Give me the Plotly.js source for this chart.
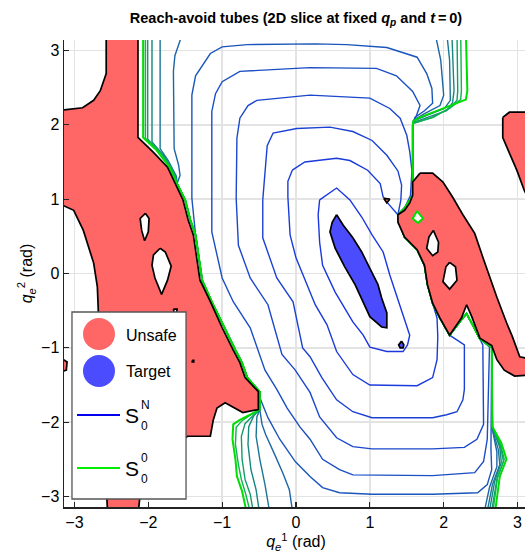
<!DOCTYPE html>
<html>
<head>
<meta charset="utf-8">
<script src="https://cdn.plot.ly/plotly-3.0.1.min.js"></script>
<style>html,body{margin:0;padding:0;overflow:hidden;background:#fff}</style>
</head>
<body>
<div id="chart" style="width:530px;height:556px"></div>
<script>
// ---------------- data (axis units: rad) ----------------
const tickValues = [-3, -2, -1, 0, 1, 2, 3];

// Unsafe set (red) polygons
const unsafeLeft = [[-2.57,3.25],[-2.14,3.25],[-2.14,1.83],[-1.93,1.63],[-1.74,1.43],[-1.64,1.21],[-1.53,0.99],[-1.46,0.72],[-1.39,0.52],[-1.34,0.18],[-1.30,-0.09],[-1.16,-0.38],[-1.00,-0.73],[-0.85,-1.03],[-0.76,-1.20],[-0.69,-1.40],[-0.51,-1.59],[-0.51,-1.83],[-0.72,-1.87],[-0.96,-1.74],[-1.07,-1.81],[-1.12,-1.97],[-1.16,-2.19],[-1.47,-2.19],[-1.70,-2.37],[-1.97,-2.71],[-2.11,-2.97],[-2.14,-3.25],[-2.55,-3.25],[-2.58,-2.64],[-2.62,-1.97],[-2.65,-1.16],[-2.68,-0.45],[-2.69,-0.18],[-2.74,0.14],[-2.88,0.58],[-3.01,0.85],[-3.25,0.96],[-3.25,2.19],[-2.89,2.23],[-2.74,2.33],[-2.65,2.46],[-2.57,2.69]];
const unsafeRight = [[1.68,1.35],[1.85,1.35],[1.99,1.23],[2.12,1.03],[2.26,0.79],[2.42,0.54],[2.53,0.22],[2.62,-0.05],[2.72,-0.32],[2.85,-0.66],[2.93,-0.85],[3.03,-1.12],[3.25,-1.17],[3.25,-1.36],[2.96,-1.38],[2.82,-1.30],[2.72,-1.16],[2.65,-0.97],[2.49,-0.87],[2.38,-0.58],[2.31,-0.42],[2.24,-0.60],[2.08,-0.83],[1.95,-0.60],[1.85,-0.40],[1.78,-0.15],[1.74,0.11],[1.64,0.32],[1.47,0.49],[1.38,0.69],[1.38,0.79],[1.47,0.85],[1.54,0.95],[1.58,1.05],[1.58,1.23]];
const unsafeTopRight = [[2.80,2.10],[2.89,2.17],[3.25,2.17],[3.25,0.80],[3.09,1.12],[2.99,1.39],[2.89,1.62],[2.80,1.83]];
const unsafeWrap = [[-3.25,-1.10],[-3.10,-1.19],[-3.11,-1.30],[-3.25,-1.34]];
const unsafeSpeck = [[1.19,1.01],[1.27,1.00],[1.23,0.95]];

// holes inside the unsafe set
const holeL1 = [[-2.04,0.81],[-1.99,0.74],[-2.00,0.56],[-2.05,0.44],[-2.09,0.58],[-2.11,0.74]];
const holeL2 = [[-1.84,0.34],[-1.77,0.29],[-1.69,0.10],[-1.74,-0.09],[-1.82,-0.28],[-1.91,-0.06],[-1.95,0.11],[-1.93,0.25]];
const holeL3 = [[-1.66,-0.48],[-1.61,-0.48],[-1.62,-0.53],[-1.65,-0.53]];
const holeL4 = [[-1.405,-1.17],[-1.385,-1.17],[-1.385,-1.19],[-1.405,-1.19]];
const holeR1 = [[1.86,0.58],[1.93,0.42],[1.92,0.29],[1.85,0.24],[1.77,0.34],[1.80,0.49]];
const holeR2 = [[2.08,0.15],[2.16,0.09],[2.18,-0.09],[2.08,-0.21],[1.99,-0.11],[2.03,0.09]];
const holeDiamond = [[1.64,0.84],[1.72,0.74],[1.65,0.68],[1.58,0.74]];

// Target set (blue)
const targetMain = [[0.55,0.79],[0.64,0.65],[0.77,0.48],[0.89,0.29],[1.00,0.07],[1.11,-0.15],[1.16,-0.33],[1.23,-0.53],[1.23,-0.73],[1.16,-0.72],[1.00,-0.58],[0.91,-0.38],[0.80,-0.15],[0.66,0.09],[0.53,0.34],[0.46,0.56],[0.49,0.69]];
const targetSpeck = [[1.43,-0.91],[1.46,-0.96],[1.45,-1.00],[1.41,-1.00],[1.39,-0.96]];

// shared stretches where level sets run along the unsafe boundary
const rimLeft = [[-1.61,1.21],[-1.50,0.99],[-1.43,0.72],[-1.36,0.52],[-1.31,0.18],[-1.27,-0.09],[-1.14,-0.38],[-0.97,-0.73],[-0.82,-1.03],[-0.73,-1.20],[-0.66,-1.40],[-0.49,-1.59],[-0.49,-1.83]];
const bundle = [[1.58,1.99],[1.58,1.23],[1.58,1.05],[1.47,0.88]];
const rimRight = [[1.38,0.79],[1.41,0.65],[1.47,0.49],[1.64,0.32],[1.74,0.11],[1.78,-0.15],[1.85,-0.40]];
const rimRightLow = [[1.95,-0.60],[2.08,-0.83]];
const rimNotch = [[2.24,-0.62],[2.31,-0.54],[2.39,-0.69],[2.49,-0.88]];

// level set S_0^N (innermost) ... S_0^0 (outermost)
const levelA = [[0.32,0.99],[0.55,1.15],[0.73,0.99],[0.89,0.76],[1.03,0.52],[1.18,0.29],[1.27,-0.02],[1.36,-0.29],[1.45,-0.56],[1.54,-0.83],[1.51,-0.96],[1.45,-1.05],[1.23,-1.05],[1.00,-0.99],[0.91,-0.83],[0.77,-0.65],[0.53,-0.25],[0.36,0.11],[0.32,0.42],[0.30,0.79],[0.32,0.99]];
const levelBTop = [[-0.05,1.39],[0.12,1.50],[0.55,1.55],[0.73,1.52],[0.97,1.39],[1.14,1.21],[1.18,1.03],[1.24,0.95]];
const levelBRest = [[1.91,-0.60],[1.92,-0.85],[1.91,-1.16],[1.85,-1.40],[1.64,-1.51],[1.00,-1.50],[0.77,-1.36],[0.55,-1.05],[0.42,-0.69],[0.26,-0.42],[0.12,-0.09],[0.00,0.21],[-0.08,0.52],[-0.11,1.03],[-0.11,1.24],[-0.05,1.39]];
const levelCTop = [[-0.45,0.99],[-0.42,1.38],[-0.39,1.72],[-0.31,1.89],[0.01,1.95],[0.46,1.97],[0.77,1.91],[1.03,1.79],[1.23,1.59],[1.38,1.38],[1.43,1.19],[1.42,0.99]];
const levelCRest = [[2.28,-0.96],[2.28,-1.56],[2.26,-1.70],[2.18,-1.86],[2.04,-1.90],[1.85,-1.94],[1.03,-1.94],[0.77,-1.86],[0.55,-1.70],[0.35,-1.40],[0.19,-1.12],[0.09,-1.00],[-0.04,-0.38],[-0.26,-0.06],[-0.45,0.48],[-0.45,0.99]];
const levelDTop = [[-0.81,1.01],[-0.80,1.82],[-0.76,2.09],[-0.65,2.26],[-0.53,2.33],[0.19,2.40],[1.00,2.36],[1.27,2.22],[1.41,2.09],[1.50,1.86],[1.54,1.64],[1.57,1.38],[1.55,1.05],[1.47,0.88]];
const levelDRest = [[2.53,-0.96],[2.54,-2.03],[2.45,-2.23],[2.28,-2.34],[1.85,-2.36],[1.03,-2.36],[0.77,-2.33],[0.55,-2.21],[0.32,-1.93],[0.19,-1.60],[-0.01,-1.30],[-0.19,-1.09],[-0.38,-0.42],[-0.62,-0.06],[-0.78,0.38],[-0.81,1.01]];
const levelETop = [[-1.14,1.01],[-1.14,2.18],[-1.09,2.42],[-1.00,2.58],[-0.76,2.72],[0.19,2.77],[1.09,2.76],[1.36,2.66],[1.58,2.45],[1.68,2.26],[1.64,2.15]];
const levelERest = [[2.62,-0.99],[2.59,-2.23],[2.54,-2.53],[2.42,-2.68],[1.85,-2.72],[1.03,-2.72],[0.77,-2.71],[0.59,-2.64],[0.36,-2.50],[0.19,-2.23],[0.05,-2.06],[-0.12,-1.81],[-0.26,-1.56],[-0.42,-1.30],[-0.49,-1.09],[-0.62,-0.73],[-0.85,-0.38],[-1.00,-0.06],[-1.14,0.56],[-1.14,1.01]];
const levelFTop = [[-1.41,1.01],[-1.41,2.40],[-1.36,2.66],[-1.27,2.80],[-1.16,2.96],[-1.00,3.05],[-0.66,3.08],[0.26,3.09],[0.69,3.08],[1.23,3.04],[1.64,2.91],[1.77,2.69],[1.84,2.49],[1.85,2.29],[1.74,2.19],[1.61,2.10]];
const levelFRest = [[2.65,-0.99],[2.64,-2.37],[2.65,-2.64],[2.59,-2.84],[2.46,-2.95],[1.85,-2.97],[1.03,-2.97],[0.59,-2.95],[0.36,-2.88],[0.19,-2.73],[-0.01,-2.53],[-0.22,-2.23],[-0.38,-1.94],[-0.49,-1.67],[-0.62,-1.46],[-0.66,-1.40],[-0.73,-1.20],[-0.82,-1.03],[-0.97,-0.73],[-1.14,-0.38],[-1.27,-0.09],[-1.31,0.18],[-1.36,0.52],[-1.41,1.01]];

// outer level sets: top-left, bottom-left, top-right, bottom-right pieces
const levelG_TL = [[-1.53,3.25],[-1.64,2.93],[-1.66,2.72],[-1.65,1.68],[-1.59,1.46],[-1.57,1.32]];
const levelG_BL = [[-0.46,-2.03],[-0.41,-2.17],[-0.30,-2.41],[-0.18,-2.68],[-0.09,-2.91],[-0.04,-3.25]];
const levelG_TR = [[1.88,3.25],[1.96,2.87],[2.00,2.40],[1.95,2.26],[1.74,2.15],[1.59,2.06]];
const levelG_BR = [[2.66,-2.10],[2.72,-2.40],[2.72,-2.60],[2.62,-2.88],[2.54,-3.25]];
const levelT1_TL = [[-1.84,3.25],[-1.84,1.68],[-1.73,1.52],[-1.62,1.31]];
const levelT1_BL = [[-0.53,-1.93],[-0.54,-2.19],[-0.49,-2.50],[-0.42,-2.84],[-0.35,-3.25]];
const levelT1_TR = [[2.04,3.25],[2.08,2.87],[2.09,2.33],[2.01,2.22],[1.78,2.13],[1.59,2.05]];
const levelT1_BR = [[2.66,-2.10],[2.74,-2.37],[2.76,-2.57],[2.66,-2.84],[2.58,-3.25]];
const levelT2_TL = [[-1.95,3.25],[-1.95,1.77],[-1.76,1.55],[-1.64,1.31]];
const levelT2_BL = [[-0.57,-1.91],[-0.64,-2.06],[-0.65,-2.30],[-0.61,-2.64],[-0.54,-2.91],[-0.49,-3.25]];
const levelT2_TR = [[2.11,3.25],[2.14,2.46],[2.12,2.30],[2.04,2.19],[1.81,2.11],[1.59,2.03]];
const levelT2_BR = [[2.66,-2.07],[2.76,-2.34],[2.78,-2.54],[2.69,-2.80],[2.61,-3.25]];
const levelT3_TL = [[-2.01,3.25],[-2.01,1.81],[-1.80,1.59],[-1.66,1.36]];
const levelT3_BL = [[-0.58,-1.91],[-0.69,-2.02],[-0.74,-2.19],[-0.73,-2.50],[-0.69,-2.77],[-0.62,-2.97],[-0.57,-3.25]];
const levelT3_TR = [[2.18,3.25],[2.19,2.46],[2.18,2.33],[2.08,2.22],[1.84,2.10],[1.59,2.02]];
const levelT3_BR = [[2.66,-2.06],[2.77,-2.33],[2.81,-2.53],[2.72,-2.77],[2.64,-3.25]];
const levelT4_TL = [[-2.04,3.25],[-2.04,1.82],[-1.84,1.63],[-1.69,1.42]];
const levelT4_BL = [[-0.61,-1.90],[-0.73,-1.98],[-0.81,-2.07],[-0.82,-2.30],[-0.78,-2.57],[-0.74,-2.77],[-0.68,-2.97],[-0.61,-3.25]];
const levelT4_TR = [[2.23,3.25],[2.24,2.46],[2.23,2.34],[2.12,2.25],[1.86,2.10],[1.59,2.02]];
const levelT4_BR = [[2.66,-2.06],[2.77,-2.30],[2.82,-2.50],[2.73,-2.74],[2.66,-3.25]];
const level0_TL = [[-2.07,3.25],[-2.07,1.83],[-1.89,1.66],[-1.72,1.44]];
const level0_BL = [[-0.62,-1.90],[-0.76,-1.97],[-0.85,-2.03],[-0.86,-2.23],[-0.82,-2.50],[-0.80,-2.73],[-0.73,-2.93],[-0.66,-3.25]];
const level0_TR = [[2.30,3.25],[2.31,2.93],[2.32,2.46],[2.30,2.34],[2.15,2.28],[1.89,2.18],[1.68,2.10],[1.59,2.05]];
const level0_BR = [[2.66,-2.06],[2.78,-2.28],[2.85,-2.50],[2.76,-2.73],[2.69,-3.25]];
const notchExit = [[2.65,-0.99]];

const levelColors = ['#1a36e0','#1a3bdb','#1a41d4','#1a47cc','#1a4ec4','#1a55bb','#1c66a6','#1a7694','#168782','#119d6a','#0bb550','#00dd00'];
const legendLabels = ['Unsafe', 'Target'];

// ---------------- build ----------------
const FONT = 'Liberation Sans, Arial, Helvetica, sans-serif';
const xsOf = a => a.map(p => p ? p[0] : null);
const ysOf = a => a.map(p => p ? p[1] : null);
const closed = a => a.concat([a[0]]);
function lineTrace(path, color, width) {
  return {type:'scatter', mode:'lines', x:xsOf(path), y:ysOf(path), line:{color:color, width:width},
          hoverinfo:'skip', showlegend:false, connectgaps:false};
}
function fillTrace(path, fillcolor, edge, width) {
  const p = closed(path);
  return {type:'scatter', mode:'lines', x:xsOf(p), y:ysOf(p), fill:'toself', fillcolor:fillcolor,
          line:{color:edge, width:width}, hoverinfo:'skip', showlegend:false};
}
const outer = (TL, BL, TR, BR) => [...TL, ...rimLeft, ...BL, null, ...TR, ...bundle, ...rimRight, ...rimRightLow, ...rimNotch, ...notchExit, ...BR];

const levels = [
  levelA,
  [...levelBTop, ...rimRight, ...levelBRest],
  [...levelCTop, ...rimRight, ...rimRightLow, ...levelCRest],
  [...levelDTop, ...rimRight, ...rimRightLow, ...rimNotch, ...levelDRest],
  [...levelETop, ...bundle, ...rimRight, ...rimRightLow, ...rimNotch, ...levelERest],
  [...levelFTop, ...bundle, ...rimRight, ...rimRightLow, ...rimNotch, ...levelFRest],
  outer(levelG_TL, levelG_BL, levelG_TR, levelG_BR),
  outer(levelT1_TL, levelT1_BL, levelT1_TR, levelT1_BR),
  outer(levelT2_TL, levelT2_BL, levelT2_TR, levelT2_BR),
  outer(levelT3_TL, levelT3_BL, levelT3_TR, levelT3_BR),
  outer(levelT4_TL, levelT4_BL, levelT4_TR, levelT4_BR),
  outer(level0_TL, level0_BL, level0_TR, level0_BR)
];

const RED = '#ff6666', BLUE = '#4c4cff', EDGE = '#000000';
const traces = [];
levels.forEach((lv, i) => traces.push(lineTrace(lv, levelColors[i], i === levels.length - 1 ? 2 : 1.4)));
[unsafeLeft, unsafeRight, unsafeTopRight, unsafeWrap, unsafeSpeck].forEach(r => traces.push(fillTrace(r, RED, EDGE, 1.7)));
[holeL1, holeL2, holeL3, holeL4, holeR1, holeR2].forEach(h => traces.push(fillTrace(h, '#ffffff', EDGE, 1.7)));
traces.push(fillTrace(holeDiamond, '#ffffff', levelColors[levelColors.length - 1], 2));
[targetMain, targetSpeck].forEach(t => traces.push(fillTrace(t, BLUE, EDGE, 1.7)));

// legend (drawn in paper coordinates)
const legendShapes = [
  {type:'rect', xref:'paper', yref:'paper', x0:0.0172, x1:0.263, y0:0.0171, y1:0.4176, fillcolor:'#ffffff', line:{color:'#555555', width:1.3}, layer:'above'},
  {type:'circle', xref:'paper', yref:'paper', xsizemode:'pixel', ysizemode:'pixel', xanchor:0.0754, yanchor:0.3704, x0:-16, x1:16, y0:-16, y1:16, fillcolor:RED, line:{width:0}, layer:'above'},
  {type:'circle', xref:'paper', yref:'paper', xsizemode:'pixel', ysizemode:'pixel', xanchor:0.0754, yanchor:0.2912, x0:-16, x1:16, y0:-16, y1:16, fillcolor:BLUE, line:{width:0}, layer:'above'},
  {type:'line', xref:'paper', yref:'paper', x0:0.028, x1:0.1207, y0:0.197, y1:0.197, line:{color:'#0000ee', width:2}, layer:'above'},
  {type:'line', xref:'paper', yref:'paper', x0:0.028, x1:0.1207, y0:0.0835, y1:0.0835, line:{color:'#00ee00', width:2}, layer:'above'}
];
const ann = (text, x, y, size) => ({xref:'paper', yref:'paper', x:x, y:y, xanchor:'left', yanchor:'middle', showarrow:false, borderpad:0, text:text, font:{family:FONT, size:size, color:'#000'}});
const legendText = [
  ann(legendLabels[0], 0.1315, 0.3683, 16),
  ann(legendLabels[1], 0.1315, 0.2891, 16),
  ann('S', 0.1293, 0.1949, 21), ann('N', 0.1638, 0.2184, 12), ann('0', 0.1638, 0.1734, 12),
  ann('S', 0.1293, 0.0814, 21), ann('0', 0.1638, 0.1049, 12), ann('0', 0.1638, 0.0600, 12)
];

const axisCommon = {
  range:[-3.1416, 3.1416], tickvals:tickValues, ticks:'inside', ticklen:5, tickwidth:1.2, tickcolor:'#222',
  showline:true, linecolor:'#222', linewidth:1.5, showgrid:true, gridcolor:'#e3e3e3', gridwidth:1.4,
  zeroline:false, mirror:false, tickfont:{family:FONT, size:16, color:'#000'}, automargin:false
};
const layout = {
  width:530, height:556,
  margin:{l:64, r:2, t:40, b:49},
  paper_bgcolor:'#fff', plot_bgcolor:'#fff',
  showlegend:false, hovermode:false,
  title:{text:'<b>Reach-avoid tubes (2D slice at fixed <i>q<sub>p</sub></i> and <i>t</i>\u2009=\u20090)</b>', x:0.5, xref:'paper', xanchor:'center', y:0.967, yref:'container', yanchor:'middle', font:{family:FONT, size:14.5, color:'#000'}},
  xaxis:Object.assign({}, axisCommon, {title:{text:'<i>q</i><sub><i>e</i></sub><sup>1</sup> (rad)', font:{family:FONT, size:16, color:'#000'}, standoff:4}}),
  yaxis:Object.assign({}, axisCommon, {title:{text:'<i>q</i><sub><i>e</i></sub><sup>2</sup> (rad)', font:{family:FONT, size:16, color:'#000'}, standoff:4}}),
  shapes:legendShapes,
  annotations:legendText
};
Plotly.newPlot('chart', traces, layout, {staticPlot:true, displayModeBar:false});
</script>
</body>
</html>
